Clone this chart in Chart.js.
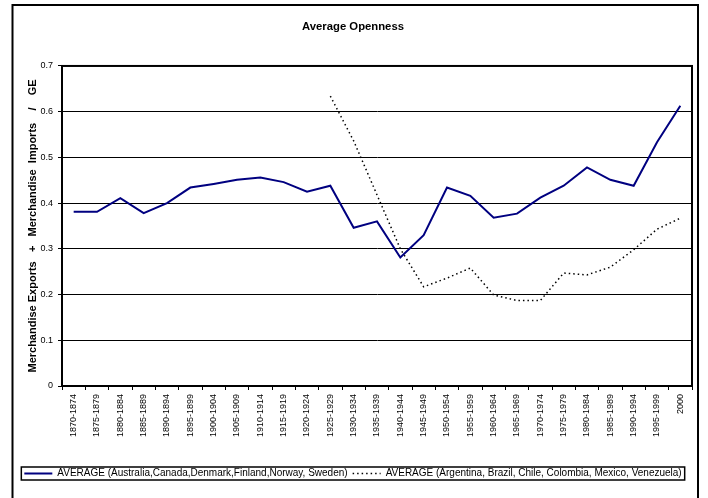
<!DOCTYPE html>
<html>
<head>
<meta charset="utf-8">
<title>Average Openness</title>
<script src="https://cdn.jsdelivr.net/npm/chart.js@4.4.1/dist/chart.umd.min.js"></script>
<style>
  html, body { margin: 0; padding: 0; background: #fff; }
  canvas { display: block; }
</style>
</head>
<body>
<canvas id="chart" width="708" height="498"></canvas>
<script>
// data
const periods = ['1870-1874', '1875-1879', '1880-1884', '1885-1889', '1890-1894', '1895-1899',
  '1900-1904', '1905-1909', '1910-1914', '1915-1919', '1920-1924', '1925-1929', '1930-1934',
  '1935-1939', '1940-1944', '1945-1949', '1950-1954', '1955-1959', '1960-1964', '1965-1969',
  '1970-1974', '1975-1979', '1980-1984', '1985-1989', '1990-1994', '1995-1999', '2000'];

const richAverage = [0.381, 0.381, 0.411, 0.378, 0.400, 0.434, 0.442, 0.451, 0.456, 0.446,
  0.425, 0.438, 0.346, 0.360, 0.281, 0.330, 0.434, 0.416, 0.368, 0.377, 0.412, 0.438,
  0.478, 0.451, 0.438, 0.533, 0.613];

const latinAverage = [null, null, null, null, null, null, null, null, null, null, null,
  0.634, 0.536, 0.418, 0.300, 0.217, 0.236, 0.258, 0.199, 0.187, 0.187, 0.247, 0.243,
  0.260, 0.298, 0.343, 0.367];

const yTickLabels = ['0', '0.1', '0.2', '0.3', '0.4', '0.5', '0.6', '0.7'];

const richName = 'AVERAGE (Australia,Canada,Denmark,Finland,Norway, Sweden)';
const latinName = 'AVERAGE (Argentina, Brazil, Chile, Colombia, Mexico, Venezuela)';
const chartTitle = 'Average Openness';
const yTitle = 'Merchandise Exports   +   Merchandise  Imports    /    GE';

const fontFamily = "'Liberation Sans', Arial, sans-serif";

// frames: outer border, plot area and legend box
const framesPlugin = {
  id: 'frames',
  beforeDatasetsDraw(chart) {
    const { ctx, chartArea: a } = chart;
    ctx.save();
    ctx.strokeStyle = '#000';
    ctx.lineWidth = 2;
    ctx.strokeRect(a.left, a.top, a.right - a.left, a.bottom - a.top);
    ctx.restore();
  },
  afterDraw(chart) {
    const { ctx } = chart;
    ctx.save();
    ctx.strokeStyle = '#000';
    ctx.lineWidth = 2;
    ctx.strokeRect(12.5, 5, 685.5, 520);

    const boxes = chart.legend.legendHitBoxes;
    if (boxes.length) {
      const first = boxes[0];
      const last = boxes[boxes.length - 1];
      const left = first.left - 3;
      const right = last.left + last.width + 3;
      ctx.lineWidth = 1.5;
      ctx.strokeRect(left, first.top - 1.5, right - left, first.height + 3);
    }
    ctx.restore();
  }
};

// legend samples keep the line dash of each series
function legendLabels(chart) {
  const items = Chart.defaults.plugins.legend.labels.generateLabels(chart);
  items.forEach(item => {
    const ds = chart.data.datasets[item.datasetIndex];
    item.lineDash = ds.borderDash || [];
    item.lineWidth = ds.borderWidth;
    item.strokeStyle = ds.borderColor;
  });
  return items;
}

const ctx = document.getElementById('chart').getContext('2d');

new Chart(ctx, {
  type: 'line',
  data: {
    labels: periods,
    datasets: [{
      label: richName,
      data: richAverage,
      borderColor: '#000080',
      backgroundColor: '#000080',
      borderWidth: 2,
      pointRadius: 0,
      tension: 0,
      fill: false
    }, {
      label: latinName,
      data: latinAverage,
      borderColor: '#000000',
      backgroundColor: '#000000',
      borderWidth: 1.5,
      borderDash: [1.5, 3],
      pointRadius: 0,
      tension: 0,
      fill: false
    }]
  },
  options: {
    responsive: false,
    animation: false,
    devicePixelRatio: 1,
    layout: {
      padding: { left: 14, right: 16, top: 0, bottom: 9.5 }
    },
    plugins: {
      title: {
        display: true,
        text: chartTitle,
        color: '#000',
        font: { family: fontFamily, size: 11.3, weight: 'bold' },
        padding: { top: 20, bottom: 32.4 }
      },
      legend: {
        display: true,
        position: 'bottom',
        labels: {
          color: '#000',
          font: { family: fontFamily, size: 10 },
          usePointStyle: true,
          pointStyle: 'line',
          pointStyleWidth: 28,
          padding: 5,
          generateLabels: legendLabels
        }
      },
      tooltip: { enabled: false }
    },
    scales: {
      x: {
        type: 'category',
        offset: true,
        afterFit(scale) { scale.height = 77.5; },
        grid: {
          offset: true,
          drawOnChartArea: false,
          drawTicks: true,
          tickLength: 4,
          color: '#000',
          lineWidth: 1
        },
        border: { display: true, color: '#000', width: 2 },
        ticks: {
          autoSkip: false,
          minRotation: 90,
          maxRotation: 90,
          padding: 4,
          color: '#000',
          font: { family: fontFamily, size: 9 }
        }
      },
      y: {
        min: 0,
        max: 0.7,
        afterFit(scale) { scale.width = 48; },
        grid: {
          color: '#000',
          lineWidth: 1,
          tickLength: 4,
          drawTicks: true
        },
        border: { display: true, color: '#000', width: 2 },
        ticks: {
          stepSize: 0.1,
          padding: 5,
          color: '#000',
          font: { family: fontFamily, size: 9 },
          callback: (value, index) => yTickLabels[index]
        },
        title: {
          display: true,
          text: yTitle,
          color: '#000',
          font: { family: fontFamily, size: 11, weight: 'bold' },
          padding: { top: 12, bottom: 0 }
        }
      }
    }
  },
  plugins: [framesPlugin]
});
</script>
</body>
</html>
